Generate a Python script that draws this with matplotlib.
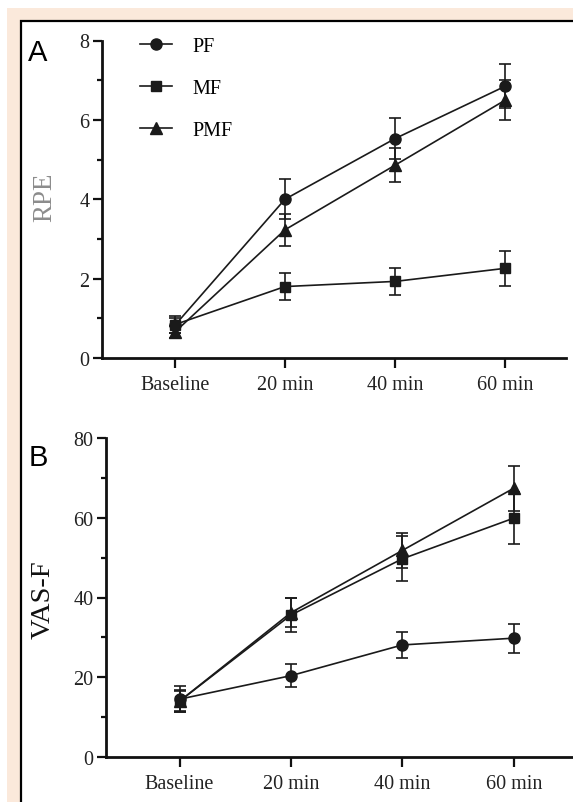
import matplotlib
matplotlib.use("Agg")
import matplotlib.pyplot as plt
from matplotlib.lines import Line2D
from matplotlib.patches import Rectangle
from matplotlib.ticker import MultipleLocator

# ---------------- data ----------------
timepoints = ["Baseline", "20 min", "40 min", "60 min"]
groups = ["PF", "MF", "PMF"]
markers = ["o", "s", "^"]

# Panel A: RPE
rpe_pf = [0.82, 4.00, 5.53, 6.85]
rpe_pf_err = [0.20, 0.50, 0.52, 0.55]
rpe_mf = [0.84, 1.80, 1.93, 2.26]
rpe_mf_err = [0.22, 0.33, 0.33, 0.44]
rpe_pmf = [0.65, 3.23, 4.86, 6.50]
rpe_pmf_err = [0.15, 0.40, 0.42, 0.50]

# Panel B: VAS-F
vas_pf = [14.5, 20.4, 28.1, 29.8]
vas_pf_err = [3.3, 2.9, 3.2, 3.6]
vas_mf = [14.0, 35.6, 49.7, 59.9]
vas_mf_err = [2.8, 4.3, 5.6, 6.6]
vas_pmf = [14.0, 36.2, 51.8, 67.4]
vas_pmf_err = [2.5, 3.7, 4.5, 5.6]

W, H = 573, 803
fig = plt.figure(figsize=(W / 100, H / 100), dpi=100)
fig.patch.set_facecolor("white")

# background frame: peach band + white panel with black border
fig.patches.append(Rectangle((7 / W, 0), 1, 1 - 9 / H, transform=fig.transFigure,
                             facecolor="#FBE9DB", edgecolor="none", zorder=-10))
fig.patches.append(Rectangle((21 / W, -0.05), 1, 1 - 22 / H + 0.05, transform=fig.transFigure,
                             facecolor="white", edgecolor="black", linewidth=1.6, zorder=-9))

serif = "Liberation Serif"
sans = "Liberation Sans"
tick_fs = 14.5
lc = "#1a1a1a"


def px_axes(left, right, top, bottom):
    return [left / W, 1 - bottom / H, (right - left) / W, (bottom - top) / H]


def style_axes(ax, ymax, major, minor, ylabel, ylabel_color, lfs, lx, ly):
    for s in ["top", "right"]:
        ax.spines[s].set_visible(False)
    for s in ["left", "bottom"]:
        ax.spines[s].set_linewidth(2.0)
        ax.spines[s].set_color("#111111")
    ax.set_ylim(0, ymax)
    ax.set_xlim(-0.66, 3.55)
    ax.set_xticks(range(len(timepoints)))
    ax.set_xticklabels(timepoints, fontfamily=serif, fontsize=tick_fs, color="#222222")
    ax.yaxis.set_major_locator(MultipleLocator(major))
    ax.yaxis.set_minor_locator(MultipleLocator(minor))
    for lab in ax.get_yticklabels():
        lab.set_fontfamily(serif)
        lab.set_fontsize(tick_fs)
        lab.set_color("#222222")
    ax.tick_params(axis="x", which="major", length=7, width=1.6, pad=5, color="#111111")
    ax.tick_params(axis="y", which="major", length=6.5, width=1.6, pad=2.5, color="#111111")
    ax.tick_params(axis="y", which="minor", length=3.5, width=1.6, color="#111111")
    ax.set_ylabel(ylabel, fontfamily=serif, fontsize=lfs, color=ylabel_color)
    ax.yaxis.label.set_verticalalignment("center")
    ax.yaxis.set_label_coords(lx / W, 1 - ly / H, transform=fig.transFigure)


def draw_series(ax, vals, errs, marker, msize):
    x = list(range(len(vals)))
    ax.errorbar(x, vals, yerr=errs, color=lc, marker=marker, markersize=msize,
                markerfacecolor=lc, markeredgecolor=lc, linewidth=1.2,
                elinewidth=1.2, capsize=4, capthick=1.2, clip_on=False, zorder=3)


# ---------- panel A ----------
axA = fig.add_axes(px_axes(102, 566, 41.5, 359))
draw_series(axA, rpe_pf, rpe_pf_err, "o", 8)
draw_series(axA, rpe_mf, rpe_mf_err, "s", 7.5)
draw_series(axA, rpe_pmf, rpe_pmf_err, "^", 8)
style_axes(axA, 8, 2, 1, "RPE", "#8c8c8c", 19.5, 45, 197)

handles = [Line2D([0], [0], color=lc, marker=m, markersize=ms, linewidth=1.2)
           for m, ms in zip(markers, [8, 7.5, 8])]
leg = axA.legend(handles, groups, loc="upper left", bbox_to_anchor=(0.082, 1.012),
                 frameon=False, borderpad=0, borderaxespad=0, handlelength=1.6,
                 handletextpad=1.0, labelspacing=1.15,
                 prop={"family": serif, "size": tick_fs})

# ---------- panel B ----------
axB = fig.add_axes(px_axes(106, 575, 439, 758))
draw_series(axB, vas_pf, vas_pf_err, "o", 8)
draw_series(axB, vas_mf, vas_mf_err, "s", 7.5)
draw_series(axB, vas_pmf, vas_pmf_err, "^", 8)
style_axes(axB, 80, 20, 10, "VAS-F", "#111111", 20.5, 43, 600)

# panel letters
fig.text(38 / W, 1 - 53 / H, "A", fontfamily=sans, fontsize=21, ha="center", va="center")
fig.text(38 / W, 1 - 458 / H, "B", fontfamily=sans, fontsize=21, ha="center", va="center")

fig.savefig("out.png", dpi=100)
